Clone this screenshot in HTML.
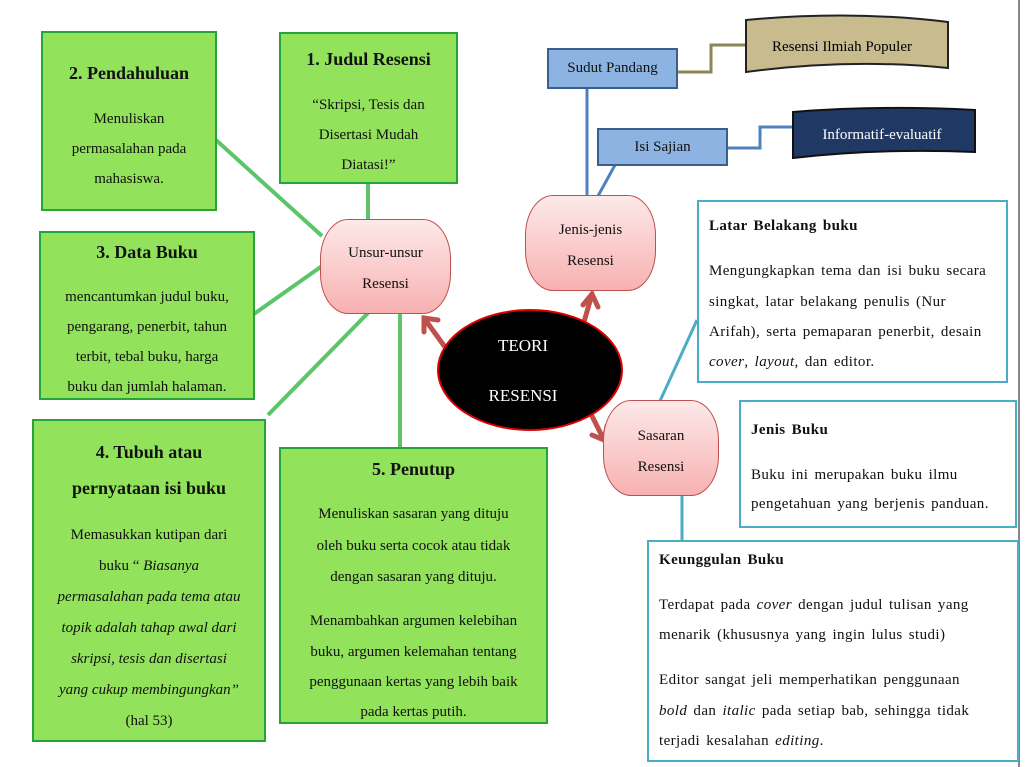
<!DOCTYPE html>
<html><head><meta charset="utf-8"><style>
body{margin:0;width:1025px;height:767px;background:#fff;position:relative;overflow:hidden;font-family:"Liberation Serif",serif;color:#111}
.g{position:absolute;background:#92e35b;border:2px solid #27a33a;box-sizing:border-box;text-align:center;font-size:15px}
.g p,.w p{position:absolute;left:0;right:0;margin:0;line-height:1}
.t{font-weight:bold;font-size:18px}
.pk{position:absolute;box-sizing:border-box;border:1px solid #c0504d;border-radius:28px/40px;background:linear-gradient(#fde9e9,#f7b1b1);text-align:center;font-size:15px}
.pk p{position:absolute;left:0;right:0;margin:0;line-height:1}
.bl{position:absolute;box-sizing:border-box;background:#8db3e2;border:2px solid #3a5f8e;font-size:15px;text-align:center}
.w{position:absolute;box-sizing:border-box;background:#fff;border:2px solid #4bacc6;font-size:15px}
.w p{left:10px;right:8px;text-align:left;letter-spacing:0.4px;word-spacing:2px}
</style></head><body>
<svg style="position:absolute;left:0;top:0" width="1025" height="767">
<g stroke="#5cc46a" stroke-width="4" fill="none">
<line x1="216" y1="140" x2="322" y2="236"/>
<line x1="368" y1="183" x2="368" y2="219"/>
<line x1="254" y1="314" x2="322" y2="266"/>
<line x1="268" y1="415" x2="368" y2="313"/>
<line x1="400" y1="447" x2="400" y2="313"/>
</g>
<g stroke="#4f81bd" stroke-width="3" fill="none">
<line x1="587" y1="88" x2="587" y2="196"/>
<line x1="615" y1="165" x2="598" y2="196"/>
<polyline points="727,148 760,148 760,127 792,127"/>
</g>
<polyline points="677,72 711,72 711,45 746,45" stroke="#8b8656" stroke-width="3" fill="none"/>
<g stroke="#4bacc6" stroke-width="3" fill="none">
<line x1="697" y1="320" x2="660" y2="401"/>
<line x1="682" y1="495" x2="682" y2="540"/>
</g>
<g stroke="#c0504d" stroke-width="5" fill="none" stroke-linecap="round">
<line x1="445" y1="347" x2="424" y2="318"/><polyline points="424,332 424,318 438,320"/>
<line x1="584" y1="322" x2="592" y2="294"/><polyline points="583,305 592,294 598,307"/>
<line x1="588" y1="408" x2="604" y2="440"/><polyline points="592,435 604,440 607,426"/>
</g>
<ellipse cx="530" cy="370" rx="92" ry="60" fill="#000" stroke="#d00" stroke-width="2"/>
<text x="523" y="351" fill="#fff" font-size="17" text-anchor="middle" font-family="Liberation Serif">TEORI</text>
<text x="523" y="401" fill="#fff" font-size="17" text-anchor="middle" font-family="Liberation Serif">RESENSI</text>
<path d="M746,20 Q850,10 948,22 L948,68 Q850,58 746,72 Z" fill="#c8bb8e" stroke="#222" stroke-width="2"/>
<text x="842" y="51" font-size="15" text-anchor="middle" font-family="Liberation Serif">Resensi Ilmiah Populer</text>
<path d="M793,112 Q880,105 975,110 L975,152 Q880,148 793,158 Z" fill="#1f3864" stroke="#111" stroke-width="2"/>
<text x="882" y="139" font-size="15" fill="#fff" text-anchor="middle" font-family="Liberation Serif">Informatif-evaluatif</text>
<line x1="1019" y1="0" x2="1019" y2="767" stroke="#888" stroke-width="2"/>
</svg>
<div class="g" style="left:41px;top:31px;width:176px;height:180px"><p class="t" style="top:31px">2. Pendahuluan</p><p style="top:79px">Menuliskan</p><p style="top:109px">permasalahan pada</p><p style="top:139px">mahasiswa.</p></div>
<div class="g" style="left:279px;top:32px;width:179px;height:152px"><p class="t" style="top:16px">1. Judul Resensi</p><p style="top:64px">“Skripsi, Tesis dan</p><p style="top:94px">Disertasi Mudah</p><p style="top:124px">Diatasi!”</p></div>
<div class="g" style="left:39px;top:231px;width:216px;height:169px"><p class="t" style="top:10px">3. Data Buku</p><p style="top:57px">mencantumkan judul buku,</p><p style="top:87px">pengarang, penerbit, tahun</p><p style="top:117px">terbit, tebal buku, harga</p><p style="top:147px">buku dan jumlah halaman.</p></div>
<div class="g" style="left:32px;top:419px;width:234px;height:323px"><p class="t" style="top:22px">4. Tubuh atau</p><p class="t" style="top:58px">pernyataan isi buku</p><p style="top:107px">Memasukkan kutipan dari</p><p style="top:138px">buku “ <i>Biasanya</i></p><p style="top:169px"><i>permasalahan pada tema atau</i></p><p style="top:200px"><i>topik adalah tahap awal dari</i></p><p style="top:231px"><i>skripsi, tesis dan disertasi</i></p><p style="top:262px"><i>yang cukup membingungkan”</i></p><p style="top:293px">(hal 53)</p></div>
<div class="g" style="left:279px;top:447px;width:269px;height:277px"><p class="t" style="top:11px">5. Penutup</p><p style="top:58px">Menuliskan sasaran yang dituju</p><p style="top:90px">oleh buku serta cocok atau tidak</p><p style="top:121px">dengan sasaran yang dituju.</p><p style="top:165px">Menambahkan argumen kelebihan</p><p style="top:196px">buku, argumen kelemahan tentang</p><p style="top:226px">penggunaan kertas yang lebih baik</p><p style="top:256px">pada kertas putih.</p></div>
<div class="pk" style="left:320px;top:219px;width:131px;height:95px"><p style="top:26px">Unsur-unsur</p><p style="top:57px">Resensi</p></div>
<div class="pk" style="left:525px;top:195px;width:131px;height:96px"><p style="top:27px">Jenis-jenis</p><p style="top:58px">Resensi</p></div>
<div class="pk" style="left:603px;top:400px;width:116px;height:96px"><p style="top:28px">Sasaran</p><p style="top:59px">Resensi</p></div>
<div class="bl" style="left:547px;top:48px;width:131px;height:41px;line-height:37px">Sudut Pandang</div>
<div class="bl" style="left:597px;top:128px;width:131px;height:38px;line-height:34px">Isi Sajian</div>
<div class="w" style="left:697px;top:200px;width:311px;height:183px"><p style="top:17px;font-weight:bold">Latar Belakang buku</p><p style="top:62px">Mengungkapkan tema dan isi buku secara</p><p style="top:93px">singkat, latar belakang penulis (Nur</p><p style="top:123px">Arifah), serta pemaparan penerbit, desain</p><p style="top:153px"><i>cover</i>, <i>layout</i>, dan editor.</p></div>
<div class="w" style="left:739px;top:400px;width:278px;height:128px"><p style="top:21px;font-weight:bold">Jenis Buku</p><p style="top:66px">Buku ini merupakan buku ilmu</p><p style="top:95px">pengetahuan yang berjenis panduan.</p></div>
<div class="w" style="left:647px;top:540px;width:372px;height:222px"><p style="top:11px;font-weight:bold">Keunggulan Buku</p><p style="top:56px">Terdapat pada <i>cover</i> dengan judul tulisan yang</p><p style="top:86px">menarik (khususnya yang ingin lulus studi)</p><p style="top:131px">Editor sangat jeli memperhatikan penggunaan</p><p style="top:162px"><i>bold</i> dan <i>italic</i> pada setiap bab, sehingga tidak</p><p style="top:192px">terjadi kesalahan <i>editing</i>.</p></div>
</body></html>
